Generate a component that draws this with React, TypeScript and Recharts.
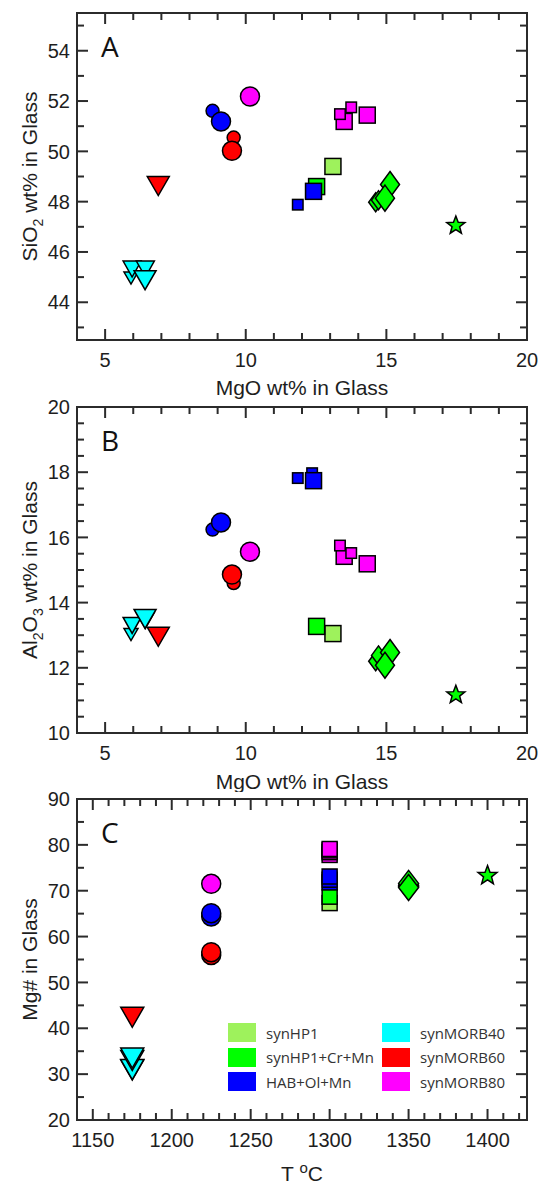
import React from 'react';
import { ScatterChart, Scatter, XAxis, YAxis, ReferenceArea } from 'recharts';

// legend order
const seriesNames = ['synHP1', 'synHP1+Cr+Mn', 'HAB+Ol+Mn', 'synMORB40', 'synMORB60', 'synMORB80'];
const seriesColors = ['#9ef25c', '#00ff00', '#0000ff', '#00ffff', '#ff0000', '#ff00ff'];

// glass analyses: MgO, SiO2, Al2O3 (wt%), Mg#, run temperature t (°C)
const hp1Squares = [{ mgo: 13.1, sio2: 49.4, al2o3: 13.05, mgNum: 67.3, t: 1300 }];
const hp1CrMnSquares = [{ mgo: 12.52, sio2: 48.6, al2o3: 13.27, mgNum: 68.7, t: 1300 }];
const hp1CrMnDiamondsSm = [
  { mgo: 14.62, sio2: 47.98, al2o3: 12.2, mgNum: 71.2, t: 1350 },
  { mgo: 14.72, sio2: 48.06, al2o3: 12.38, mgNum: 70.9, t: 1350 },
];
const hp1CrMnDiamondsLg = [
  { mgo: 15.13, sio2: 48.68, al2o3: 12.47, mgNum: 71.6, t: 1350 },
  { mgo: 14.95, sio2: 48.14, al2o3: 12.08, mgNum: 70.7, t: 1350 },
];
const hp1CrMnStar = [{ mgo: 17.47, sio2: 47.05, al2o3: 11.17, mgNum: 73.3, t: 1400 }];

const habCirclesSm = [{ mgo: 8.82, sio2: 51.61, al2o3: 16.24, mgNum: 64.4, t: 1225 }];
const habCirclesLg = [{ mgo: 9.12, sio2: 51.19, al2o3: 16.46, mgNum: 65.1, t: 1225 }];
const habSquaresSm = [
  { mgo: 11.85, sio2: 47.88, al2o3: 17.82, mgNum: 71.8, t: 1300 },
  { mgo: 12.36, sio2: 48.5, al2o3: 17.97, mgNum: 72.4, t: 1300 },
];
const habSquaresLg = [{ mgo: 12.41, sio2: 48.41, al2o3: 17.74, mgNum: 73.1, t: 1300 }];

const morb40TrianglesSm = [{ mgo: 5.92, sio2: 44.96, al2o3: 13.02, mgNum: 30.9, t: 1175 }];
const morb40TrianglesMd = [
  { mgo: 5.96, sio2: 45.32, al2o3: 13.3, mgNum: 31.0, t: 1175 },
  { mgo: 6.43, sio2: 45.32, al2o3: 13.45, mgNum: 33.0, t: 1175 },
];
const morb40TrianglesLg = [{ mgo: 6.42, sio2: 44.88, al2o3: 13.5, mgNum: 33.5, t: 1175 }];

const morb60Triangles = [{ mgo: 6.89, sio2: 48.62, al2o3: 12.95, mgNum: 42.4, t: 1175 }];
const morb60CirclesSm = [{ mgo: 9.57, sio2: 50.55, al2o3: 14.6, mgNum: 56.0, t: 1225 }];
const morb60CirclesLg = [{ mgo: 9.51, sio2: 50.02, al2o3: 14.86, mgNum: 56.6, t: 1225 }];

const morb80Circles = [{ mgo: 10.15, sio2: 52.18, al2o3: 15.56, mgNum: 71.5, t: 1225 }];
const morb80SquaresLg = [
  { mgo: 13.5, sio2: 51.19, al2o3: 15.42, mgNum: 77.8, t: 1300 },
  { mgo: 14.32, sio2: 51.44, al2o3: 15.19, mgNum: 78.4, t: 1300 },
];
const morb80SquaresSm = [
  { mgo: 13.35, sio2: 51.48, al2o3: 15.75, mgNum: 78.8, t: 1300 },
  { mgo: 13.75, sio2: 51.75, al2o3: 15.52, mgNum: 79.1, t: 1300 },
];

// axis ticks
const mgoTicks = [4, 5, 6, 7, 8, 9, 10, 11, 12, 13, 14, 15, 16, 17, 18, 19, 20];
const sio2Ticks = [43, 44, 45, 46, 47, 48, 49, 50, 51, 52, 53, 54, 55];
const al2o3Ticks = [10, 10.5, 11, 11.5, 12, 12.5, 13, 13.5, 14, 14.5, 15, 15.5, 16, 16.5, 17, 17.5, 18, 18.5, 19, 19.5, 20];
const tempTicks = [1140, 1150, 1160, 1170, 1180, 1190, 1200, 1210, 1220, 1230, 1240, 1250, 1260, 1270, 1280, 1290, 1300, 1310, 1320, 1330, 1340, 1350, 1360, 1370, 1380, 1390, 1400, 1410, 1420];
const mgNumTicks = [20, 25, 30, 35, 40, 45, 50, 55, 60, 65, 70, 75, 80, 85, 90];

// draw order matters for the overlaps
const groups = [
  { s: 0, data: hp1Squares, kind: 'square', size: 'lg' },
  { s: 1, data: hp1CrMnSquares, kind: 'square', size: 'lg' },
  { s: 1, data: hp1CrMnDiamondsSm, kind: 'diamond', size: 'sm' },
  { s: 1, data: hp1CrMnDiamondsLg, kind: 'diamond', size: 'lg' },
  { s: 1, data: hp1CrMnStar, kind: 'star', size: 'lg' },
  { s: 3, data: morb40TrianglesSm, kind: 'triangle', size: 'sm' },
  { s: 3, data: morb40TrianglesMd, kind: 'triangle', size: 'md' },
  { s: 3, data: morb40TrianglesLg, kind: 'triangle', size: 'lg' },
  { s: 4, data: morb60Triangles, kind: 'triangle', size: 'lg' },
  { s: 4, data: morb60CirclesSm, kind: 'circle', size: 'sm' },
  { s: 4, data: morb60CirclesLg, kind: 'circle', size: 'lg' },
  { s: 5, data: morb80Circles, kind: 'circle', size: 'lg' },
  { s: 5, data: morb80SquaresLg, kind: 'square', size: 'lg' },
  { s: 5, data: morb80SquaresSm, kind: 'square', size: 'sm' },
  { s: 2, data: habCirclesSm, kind: 'circle', size: 'sm' },
  { s: 2, data: habCirclesLg, kind: 'circle', size: 'lg' },
  { s: 2, data: habSquaresSm, kind: 'square', size: 'sm' },
  { s: 2, data: habSquaresLg, kind: 'square', size: 'lg' },
];

// marker dimensions in px; 'c' = uniform size used in panel C
const dims: any = {
  circle: { sm: 6.5, lg: 9.5, c: 9.5 },
  square: { sm: 10.5, lg: 16, c: 15 },
  diamond: { sm: [14, 19], lg: [19, 26], c: [20, 26] },
  triangle: { sm: [14, 12], md: [18, 16], lg: [22, 19], c: [23, 20] },
  star: { lg: 9.5, c: 10 },
};

const FRAME = '#2b2b2b';
const TEXT = '#1e1e1e';
const ARIAL = '"Liberation Sans", Arial, sans-serif';
const CALIBRI = '"Open Sans", "Noto Sans", sans-serif';
const PL = 77;
const PR = 527;

function Marker({ cx, cy, kind, d, fill }: any) {
  const st = { fill, stroke: '#000', strokeWidth: 1.5 };
  if (kind === 'circle') return <circle cx={cx} cy={cy} r={d} {...st} />;
  if (kind === 'square') return <rect x={cx - d / 2} y={cy - d / 2} width={d} height={d} {...st} />;
  if (kind === 'diamond') {
    const [w, h] = d;
    return <polygon points={`${cx},${cy - h / 2} ${cx + w / 2},${cy} ${cx},${cy + h / 2} ${cx - w / 2},${cy}`} {...st} />;
  }
  if (kind === 'triangle') {
    const [w, h] = d;
    return <polygon points={`${cx - w / 2},${cy - h / 2} ${cx + w / 2},${cy - h / 2} ${cx},${cy + h / 2}`} {...st} />;
  }
  const pts = [];
  for (let i = 0; i < 10; i++) {
    const r = i % 2 === 0 ? d : d * 0.42;
    const a = -Math.PI / 2 + (i * Math.PI) / 5;
    pts.push(`${cx + r * Math.cos(a)},${cy + r * Math.sin(a)}`);
  }
  return <polygon points={pts.join(' ')} {...st} />;
}

const isMult = (v: number, m: number) => Math.abs(v / m - Math.round(v / m)) < 1e-6;

function Panel(props: any) {
  const { height, mt, xh, xKey, yKey, xDomain, yDomain, xTicks, yTicks, xMajor, yMajor, xTitle, yTitle, letter, titleDy, uniform } = props;
  const PT = mt;
  const PB = height - xh;

  const xTick = (p: any) => {
    const v = p.payload.value;
    const x = p.payload.coordinate;
    const major = isMult(v, xMajor);
    const len = major ? 11 : 7;
    return (
      <g>
        <line x1={x} x2={x} y1={PB} y2={PB - len} stroke={FRAME} strokeWidth={2} />
        <line x1={x} x2={x} y1={PT} y2={PT + len} stroke={FRAME} strokeWidth={2} />
        {major && v > xDomain[0] - 1e-6 && (
          <text x={x} y={PB + 27} textAnchor="middle" fontSize={20} fontFamily={ARIAL} fill={TEXT}>{v}</text>
        )}
      </g>
    );
  };

  const yTick = (p: any) => {
    const v = p.payload.value;
    const y = p.payload.coordinate;
    const major = isMult(v, yMajor);
    const len = major ? 11 : 7;
    return (
      <g>
        <line x1={PL} x2={PL + len} y1={y} y2={y} stroke={FRAME} strokeWidth={2} />
        <line x1={PR} x2={PR - len} y1={y} y2={y} stroke={FRAME} strokeWidth={2} />
        {major && (
          <text x={PL - 7} y={y} dy="0.36em" textAnchor="end" fontSize={20} fontFamily={ARIAL} fill={TEXT}>{v}</text>
        )}
      </g>
    );
  };

  const xLabel = () => (
    <g>
      <text x={(PL + PR) / 2} y={PB + titleDy} textAnchor="middle" fontSize={21} fontFamily={ARIAL} fill={TEXT}>{xTitle}</text>
      <text x={101} y={PT + 44} fontSize={28} fontFamily={CALIBRI} fill="#111">{letter}</text>
    </g>
  );

  const yLabel = () => {
    const cy = (PT + PB) / 2;
    return (
      <text x={37} y={cy} transform={`rotate(-90, 37, ${cy})`} textAnchor="middle" fontSize={21} fontFamily={ARIAL} fill={TEXT}>{yTitle}</text>
    );
  };

  return (
    <ScatterChart width={539} height={height} margin={{ top: mt, right: 539 - PR, left: 0, bottom: 0 }}>
      <XAxis type="number" dataKey="x" domain={xDomain} ticks={xTicks} interval={0} allowDataOverflow
        axisLine={false} tickLine={false} tickSize={0} tick={xTick} height={xh} label={xLabel} />
      <YAxis type="number" dataKey="y" domain={yDomain} ticks={yTicks} interval={0} allowDataOverflow
        axisLine={false} tickLine={false} tickSize={0} tick={yTick} width={PL} label={yLabel} />
      <ReferenceArea x1={xDomain[0]} x2={xDomain[1]} y1={yDomain[0]} y2={yDomain[1]}
        fill="none" fillOpacity={0} stroke={FRAME} strokeWidth={2} strokeOpacity={1} />
      {groups.map((g, i) => (
        <Scatter
          key={i}
          name={seriesNames[g.s]}
          data={g.data.map((d: any) => ({ x: d[xKey], y: d[yKey] }))}
          isAnimationActive={false}
          shape={(p: any) => (
            <Marker cx={p.cx} cy={p.cy} kind={g.kind} d={dims[g.kind][uniform ? 'c' : g.size]} fill={seriesColors[g.s]} />
          )}
        />
      ))}
    </ScatterChart>
  );
}

function LegendBox() {
  return (
    <div style={{ position: 'absolute', left: 0, top: 0 }}>
      {seriesNames.map((n, i) => {
        const col = Math.floor(i / 3);
        const row = i % 3;
        return (
          <div key={n} style={{ position: 'absolute', left: col ? 382 : 228, top: 1023 + row * 24.5, height: 19, display: 'flex', alignItems: 'center', whiteSpace: 'nowrap' }}>
            <div style={{ width: 28, height: 19, background: seriesColors[i] }} />
            <span style={{ marginLeft: 10, fontFamily: CALIBRI, fontSize: 15, color: '#333' }}>{n}</span>
          </div>
        );
      })}
    </div>
  );
}

export default function App() {
  const sio2Title = (
    <>
      <tspan>SiO</tspan><tspan dy={6} fontSize={14}>2</tspan><tspan dy={-6}> wt% in Glass</tspan>
    </>
  );
  const al2o3Title = (
    <>
      <tspan>Al</tspan><tspan dy={6} fontSize={14}>2</tspan><tspan dy={-6}>O</tspan>
      <tspan dy={6} fontSize={14}>3</tspan><tspan dy={-6}> wt% in Glass</tspan>
    </>
  );
  const tTitle = (
    <>
      <tspan>T </tspan><tspan dy={-8} fontSize={15}>o</tspan><tspan dy={8}>C</tspan>
    </>
  );
  return (
    <div style={{ position: 'absolute', left: 0, top: 0, width: 539, height: 1184, background: '#fff' }}>
      <div style={{ position: 'absolute', left: 0, top: 0 }}>
        <Panel height={402} mt={13} xh={62} xKey="mgo" yKey="sio2" xDomain={[4, 20]} yDomain={[42.5, 55.5]}
          xTicks={mgoTicks} yTicks={sio2Ticks} xMajor={5} yMajor={2}
          xTitle="MgO wt% in Glass" yTitle={sio2Title} letter="A" titleDy={55} uniform={false} />
      </div>
      <div style={{ position: 'absolute', left: 0, top: 390 }}>
        <Panel height={402} mt={17} xh={59} xKey="mgo" yKey="al2o3" xDomain={[4, 20]} yDomain={[10, 20]}
          xTicks={mgoTicks} yTicks={al2o3Ticks} xMajor={5} yMajor={2}
          xTitle="MgO wt% in Glass" yTitle={al2o3Title} letter="B" titleDy={56} uniform={false} />
      </div>
      <div style={{ position: 'absolute', left: 0, top: 780 }}>
        <Panel height={404} mt={19} xh={64} xKey="t" yKey="mgNum" xDomain={[1140, 1425]} yDomain={[20, 90]}
          xTicks={tempTicks} yTicks={mgNumTicks} xMajor={50} yMajor={10}
          xTitle={tTitle} yTitle="Mg# in Glass" letter="C" titleDy={61} uniform={true} />
      </div>
      <LegendBox />
    </div>
  );
}
